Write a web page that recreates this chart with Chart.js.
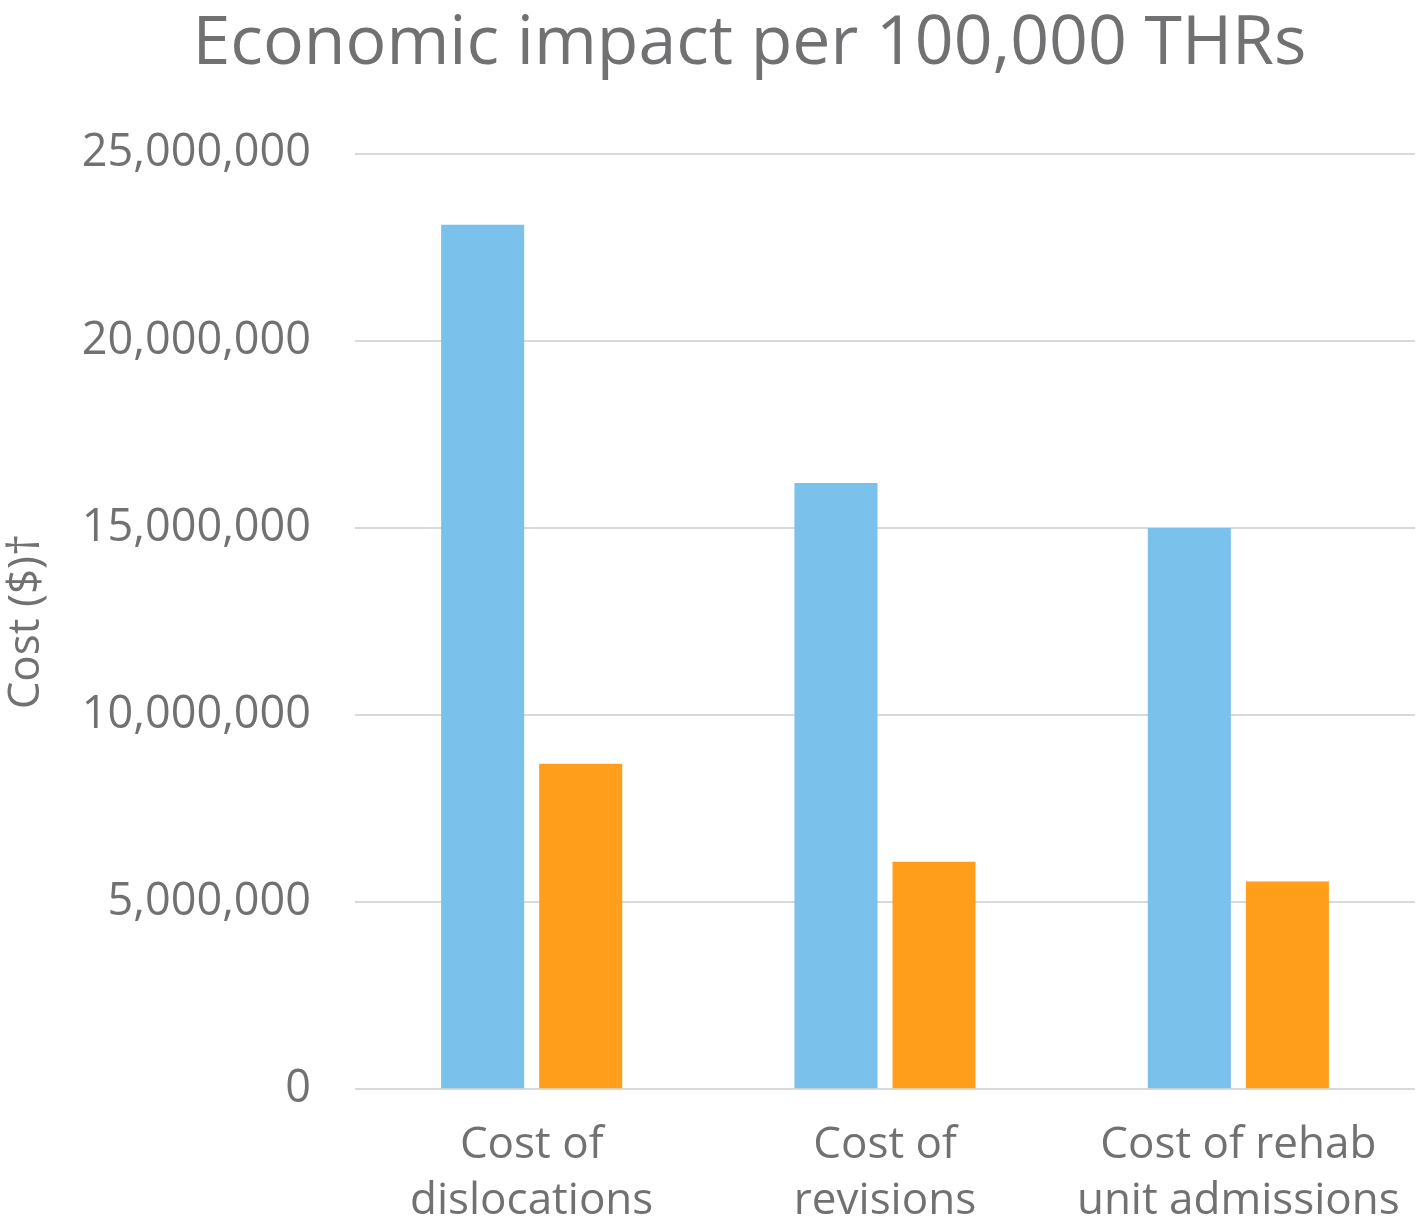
<!DOCTYPE html>
<html>
<head>
<meta charset="utf-8">
<script src="https://cdn.jsdelivr.net/npm/chart.js@4/dist/chart.umd.min.js"></script>
<style>
  html, body { margin: 0; padding: 0; background: #ffffff; }
  #wrap { width: 1418px; height: 1229px; }
</style>
</head>
<body>
<div id="wrap"><canvas id="myChart" width="1418" height="1229"></canvas></div>
<script>
// Datos del gráfico
var categorias = [['Cost of', 'dislocations'], ['Cost of', 'revisions'], ['Cost of rehab', 'unit admissions']];
var serieAzul = [23100000, 16200000, 15000000];
var serieNaranja = [8700000, 6080000, 5550000];
var ticksY = [0, 5000000, 10000000, 15000000, 20000000, 25000000];

var gris = '#717174';
var fuente = "'Open Sans', 'Noto Sans', sans-serif";

var ctx = document.getElementById('myChart').getContext('2d');

// Desplaza el título un poco a la derecha, como en el original
var moverTitulo = {
    id: 'moverTitulo',
    afterLayout: function (chart) {
        if (chart.titleBlock) {
            chart.titleBlock.left = 84;
        }
    }
};

var myChart = new Chart(ctx, {
    type: 'bar',
    data: {
        labels: categorias,
        datasets: [
            {
                label: 'Serie 1',
                data: serieAzul,
                backgroundColor: '#7AC1EC',
                borderWidth: 0,
                barPercentage: 0.847,
                categoryPercentage: 0.555
            },
            {
                label: 'Serie 2',
                data: serieNaranja,
                backgroundColor: '#FF9E1B',
                borderWidth: 0,
                barPercentage: 0.847,
                categoryPercentage: 0.555
            }
        ]
    },
    plugins: [moverTitulo],
    options: {
        responsive: false,
        animation: false,
        devicePixelRatio: 1,
        layout: {
            padding: { left: 0, right: 3, top: 0, bottom: 0 }
        },
        plugins: {
            legend: { display: false },
            tooltip: { enabled: false },
            title: {
                display: true,
                text: 'Economic impact per 100,000 THRs',
                color: gris,
                font: { family: fuente, size: 68, weight: 'normal' },
                padding: { top: 4, bottom: 68 }
            }
        },
        scales: {
            x: {
                grid: { display: false, drawTicks: false },
                border: { display: false },
                afterFit: function (axis) {
                    axis.height -= 29;
                    axis.paddingRight = 0;
                    axis.paddingLeft = 0;
                },
                ticks: {
                    color: gris,
                    font: { family: fuente, size: 44, lineHeight: 1.28 },
                    padding: 28,
                    maxRotation: 0,
                    autoSkip: false
                }
            },
            y: {
                min: 0,
                max: 25000000,
                afterBuildTicks: function (axis) {
                    axis.ticks = ticksY.map(function (v) { return { value: v }; });
                },
                afterFit: function (axis) {
                    axis.width = 355;
                },
                grid: {
                    color: '#d9d9d9',
                    lineWidth: 2,
                    drawTicks: false
                },
                border: { display: false },
                ticks: {
                    color: gris,
                    font: { family: fuente, size: 45 },
                    padding: 44,
                    callback: function (v) { return v.toLocaleString('en-US'); }
                },
                title: {
                    display: true,
                    text: 'Cost ($)\u2020',
                    color: gris,
                    font: { family: fuente, size: 44 },
                    padding: { top: 0, bottom: 10 }
                }
            }
        }
    }
});
</script>
</body>
</html>
